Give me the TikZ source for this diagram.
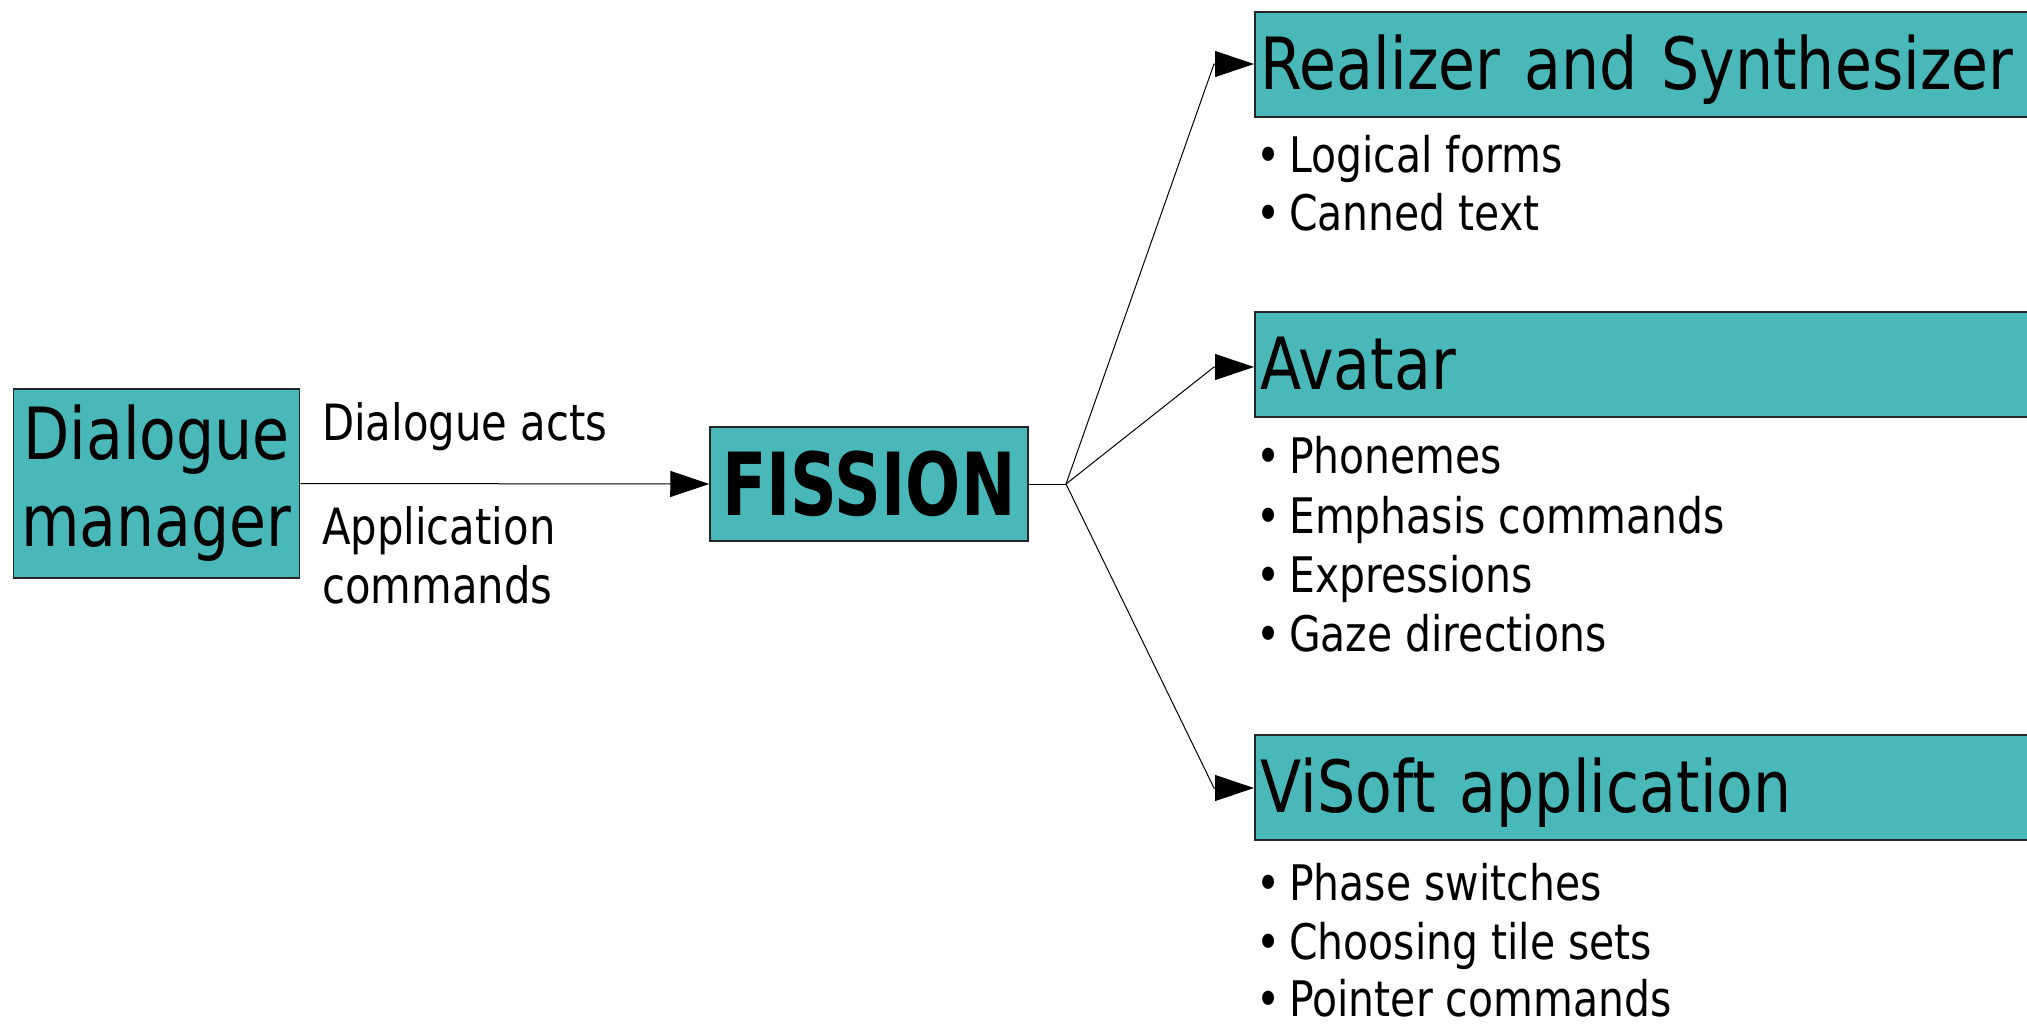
\documentclass[tikz,border=0pt]{standalone}
\usepackage{fontspec}
\setmainfont{DejaVu Sans}[FakeStretch=0.835]
\usetikzlibrary{arrows.meta}
\definecolor{boxteal}{RGB}{72,184,184}
\tikzset{
  box/.style={draw=black!85, line width=1.5pt, fill=boxteal, inner sep=0pt},
  titlebox/.style={box, anchor=base west, inner xsep=6pt, text width=776pt, align=left,
     text height=77pt, text depth=28pt, font=\fontsize{72}{84}\selectfont},
  conn/.style={draw=black, line width=1pt},
  arr/.style={conn, -{Triangle[length=39pt,width=26pt]}},
  lbl/.style={anchor=base west, inner sep=0pt, font=\fontsize{50}{59}\selectfont, align=left},
  bul/.style={anchor=base west, inner sep=0pt, font=\fontsize{49}{59.5}\selectfont},
}
\newcommand{\bl}[1]{\makebox[33pt][l]{\textbullet}#1}
\begin{document}
\begin{tikzpicture}[x=1pt,y=-1pt]
\useasboundingbox (0,0) rectangle (2027,1023);
\clip (0,0) rectangle (2027,1023);

% left boxes
\node[box, minimum width=286pt, minimum height=189pt, align=center,
      font=\fontsize{72}{87}\selectfont] (dm) at (156.5,483.5) {Dialogue\\manager};
\node[box, minimum width=318pt, minimum height=114pt] (fis) at (869,484)
   {\scalebox{0.895}[1]{\fontsize{87}{90}\selectfont\bfseries FISSION}};

\draw[arr] (dm.east) -- (fis.west);

\node[lbl] (l1) at (322,440) {Dialogue acts};
\node[lbl] (l2) at (322,603) {Application\\commands};

% right boxes
\node[titlebox] (rs) at (1254,89) {Realizer and Synthesizer};
\node[titlebox] (av) at (1254,389) {Avatar};
\node[titlebox] (vs) at (1254,812) {ViSoft application};

% fork
\coordinate (j) at (1066,484);
\coordinate (b1) at (1214,64);
\coordinate (b2) at (1214,367);
\coordinate (b3) at (1214,788);
\draw[conn] (fis.east) -- (j);
\draw[arr] (j) -- (b1) -- (rs.west |- b1);
\draw[arr] (j) -- (b2) -- (av.west |- b2);
\draw[arr] (j) -- (b3) -- (vs.west |- b3);

% bullets
\node[bul] (rs1) at (1256,172) {\bl{Logical forms}};
\node[bul] (rs2) at (1256,230) {\bl{Canned text}};
\node[bul] (av1) at (1256,473) {\bl{Phonemes}};
\node[bul] (av2) at (1256,533) {\bl{Emphasis commands}};
\node[bul] (av3) at (1256,592) {\bl{Expressions}};
\node[bul] (av4) at (1256,651) {\bl{Gaze directions}};
\node[bul] (vs1) at (1256,900) {\bl{Phase switches}};
\node[bul] (vs2) at (1256,959) {\bl{Choosing tile sets}};
\node[bul] (vs3) at (1256,1016) {\bl{Pointer commands}};
\end{tikzpicture}
\end{document}
